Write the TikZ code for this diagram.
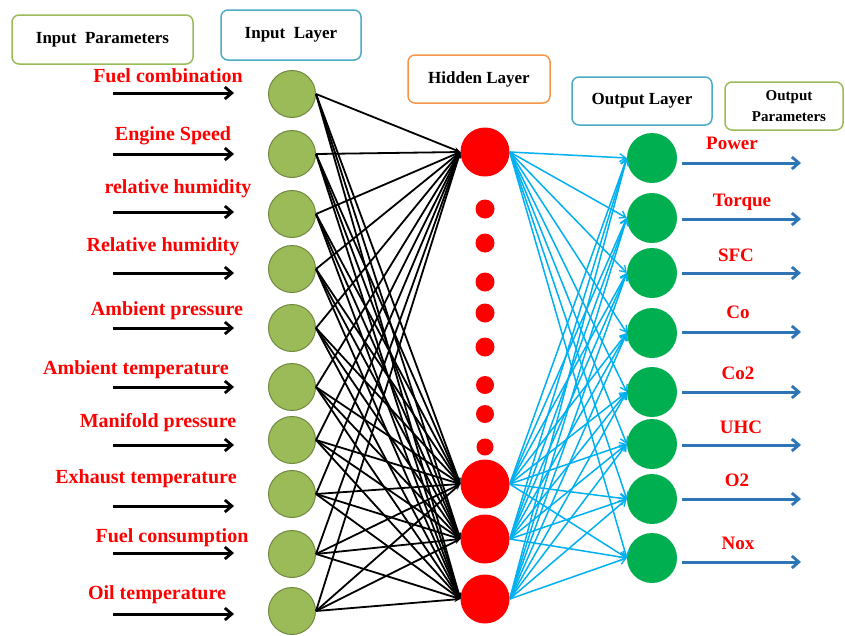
\documentclass[tikz,border=0pt]{standalone}
\usepackage{fontspec}
\setmainfont{Liberation Serif}
\usetikzlibrary{arrows.meta}
\definecolor{olivefill}{HTML}{9BBB59}
\definecolor{olivedraw}{HTML}{71893F}
\definecolor{outgreen}{HTML}{00B050}
\definecolor{boxgreen}{HTML}{9BBB59}
\definecolor{boxblue}{HTML}{4BACC6}
\definecolor{boxorange}{HTML}{F79646}
\definecolor{linkblue}{HTML}{00B0F0}
\definecolor{arrowblue}{HTML}{2E75B6}
\definecolor{lblred}{HTML}{FF0000}
\tikzset{
  inode/.style={circle, fill=olivefill, draw=olivedraw, line width=1pt, minimum size=47pt, inner sep=0pt},
  hnode/.style={circle, fill=red, minimum size=49pt, inner sep=0pt},
  hdot/.style={circle, fill=red, minimum size=19pt, inner sep=0pt},
  onode/.style={circle, fill=outgreen, minimum size=50pt, inner sep=0pt},
  lbox/.style={rectangle, rounded corners=7pt, line width=1.5pt, fill=white, align=center,
    font=\fontsize{17}{21}\selectfont\bfseries, text=black},
  inlbl/.style={text=lblred, font=\fontsize{20}{22}\selectfont\bfseries, inner sep=0pt},
  outlbl/.style={text=lblred, font=\fontsize{19}{22}\selectfont\bfseries, inner sep=0pt},
  inarrow/.style={line width=3pt, black, -{Straight Barb[length=7pt,width=12pt,line width=2.8pt]}},
  outarrow/.style={line width=3pt, arrowblue, -{Straight Barb[length=7pt,width=12pt,line width=2.8pt]}},
  blink/.style={line width=1.8pt, black, -{Stealth[length=6pt,width=5pt]}},
  clink/.style={line width=1.5pt, linkblue, -{Straight Barb[length=6pt,width=8pt,line width=1.3pt]}}
}
\begin{document}
\begin{tikzpicture}[x=1pt, y=-1pt]
\useasboundingbox (0,0) rectangle (845,635);
\fill[white] (0,0) rectangle (845,635);

% boxes
\node[lbox, draw=boxgreen, minimum width=181pt, minimum height=49pt] (bip) at (102.5,39.5) {Input\ \ Parameters};
\node[lbox, draw=boxblue, minimum width=140pt, minimum height=50pt] (bil) at (291,35) {Input\ \ Layer};
\node[lbox, draw=boxorange, minimum width=142pt, minimum height=48pt] (bhl) at (479,79) {Hidden Layer};
\node[lbox, draw=boxblue, minimum width=140pt, minimum height=48pt] (bol) at (642,101) {Output Layer};
\node[lbox, draw=boxgreen, minimum width=118pt, minimum height=48pt, font=\fontsize{15}{21}\selectfont\bfseries] (bop) at (784,106) {\hspace*{10pt}Output\\\hspace*{10pt}Parameters};

% input nodes
\foreach \i/\y in {1/94,2/154,3/214,4/269,5/328,6/387,7/440,8/494,9/554,10/611}{
  \node[inode] (in\i) at (292,\y) {};
}
% hidden nodes
\node[hnode] (hd1) at (485,152) {};
\node[hnode] (hd2) at (485,484) {};
\node[hnode] (hd3) at (485,539) {};
\node[hnode] (hd4) at (485,599) {};
\foreach \k/\y/\s in {1/209/19,2/243/19,3/282/19,4/313/19,5/347/19,6/385/18,7/414/18,8/447/17}{
  \node[hdot, minimum size=\s pt] (dot\k) at (485,\y) {};
}
% output nodes
\foreach \j/\y in {1/158,2/218,3/273,4/333,5/392,6/444,7/499,8/558}{
  \node[onode] (out\j) at (652,\y) {};
}

% input -> hidden links
\foreach \i in {1,...,10}{
  \foreach \h in {1,...,4}{
    \draw[blink] (in\i.east) -- (hd\h.west);
  }
}
% hidden -> output links
\foreach \h in {1,...,4}{
  \foreach \j in {1,...,8}{
    \draw[clink] (hd\h.east) -- (out\j.west);
  }
}

% input labels and arrows
\foreach \i/\ly/\ay/\lx/\txt in {
  1/76/93/168/Fuel combination,
  2/136/154/173/Engine Speed,
  3/189/212/178/relative humidity,
  4/247/273/163/Relative humidity,
  5/311/328/167/Ambient pressure,
  6/370/387/136/Ambient temperature,
  7/423/445/158/Manifold pressure,
  8/479/506/146/Exhaust temperature,
  9/538/553/172/Fuel consumption,
  10/595/614/157/Oil temperature}{
  \node[inlbl] (il\i) at (\lx,\ly) {\txt};
  \coordinate (ias\i) at (113,\ay);
  \coordinate (iae\i) at (234,\ay);
  \draw[inarrow] (ias\i) -- (iae\i);
}

% output labels and arrows
\foreach \j/\ly/\ay/\lx/\txt in {
  1/143/163/732/Power,
  2/202/219/742/Torque,
  3/255/273/736/SFC,
  4/312/332/738/Co,
  5/373/392/738/Co2,
  6/427/445/741/UHC,
  7/480/499/737/O2,
  8/543/562/738/Nox}{
  \node[outlbl] (ol\j) at (\lx,\ly) {\txt};
  \coordinate (oas\j) at (682,\ay);
  \coordinate (oae\j) at (801,\ay);
  \draw[outarrow] (oas\j) -- (oae\j);
}
\end{tikzpicture}
\end{document}
